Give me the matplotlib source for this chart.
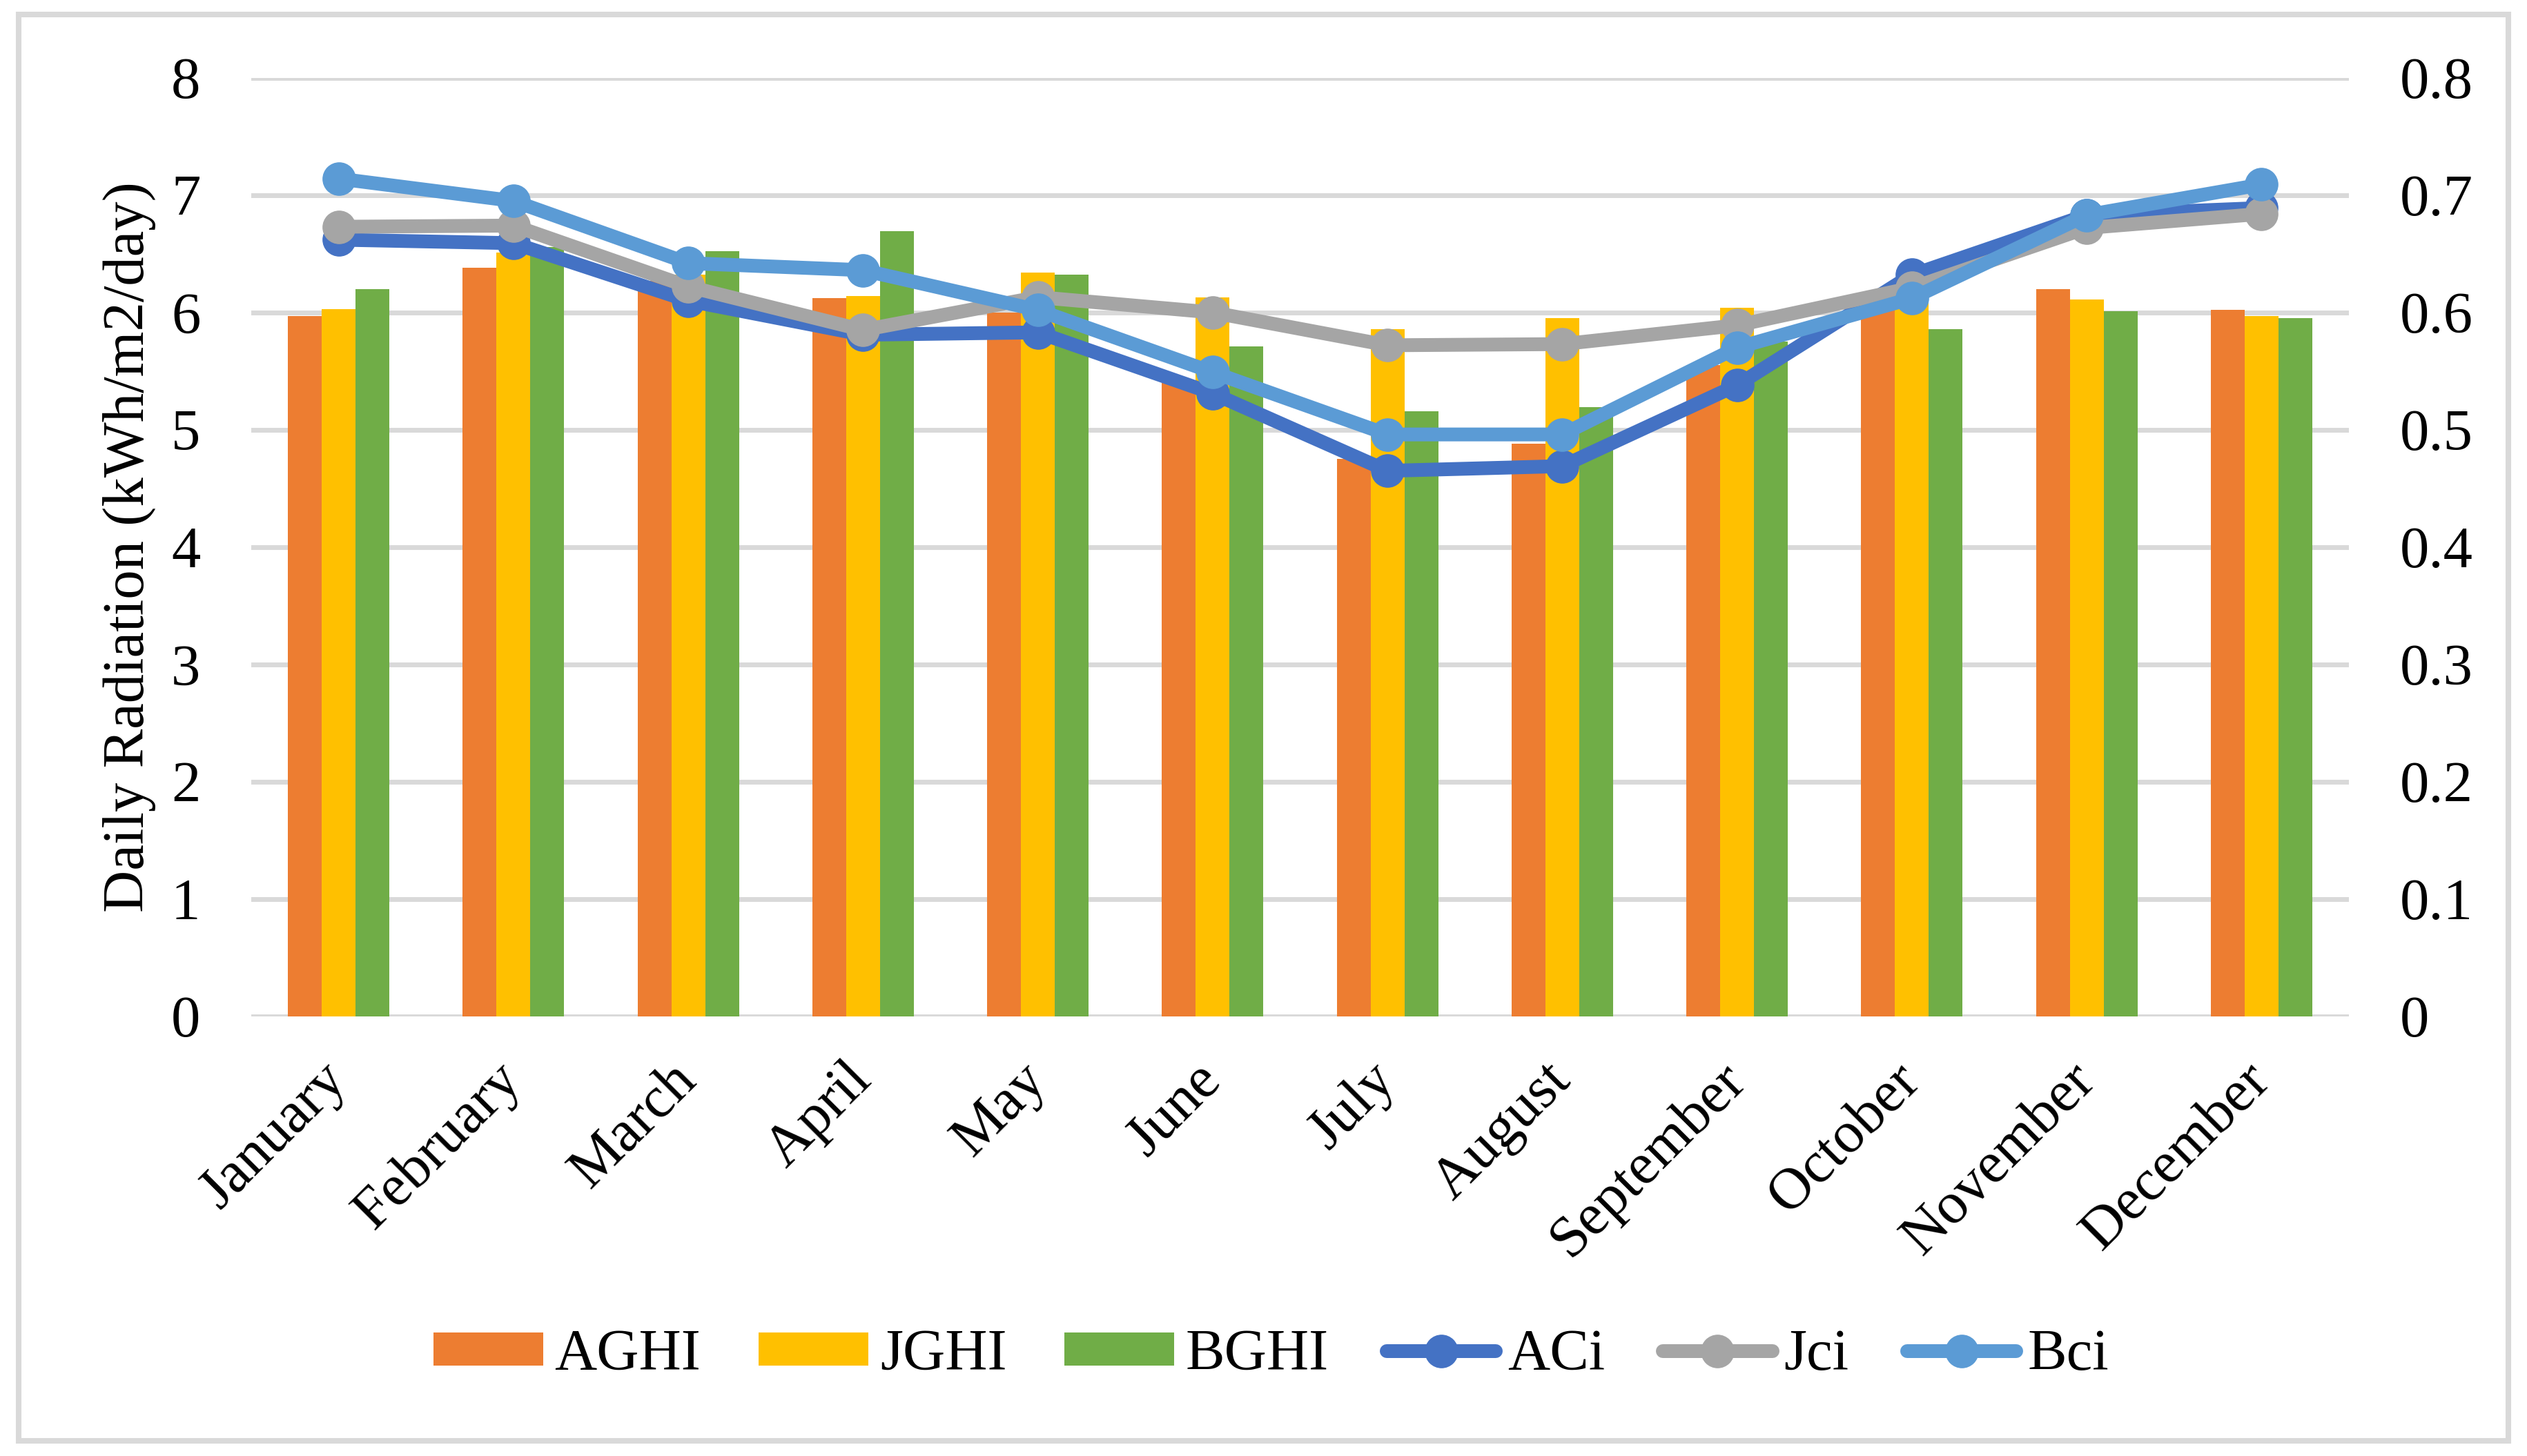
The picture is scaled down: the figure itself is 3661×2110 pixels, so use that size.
import matplotlib
matplotlib.use('Agg')
import matplotlib.pyplot as plt
from matplotlib.patches import Rectangle
import numpy as np

plt.rcParams['font.family'] = ['Liberation Serif', 'DejaVu Serif']

# Data
months = ['January', 'February', 'March', 'April', 'May', 'June', 'July',
          'August', 'September', 'October', 'November', 'December']
aghi = [5.97, 6.38, 6.27, 6.12, 6.00, 5.41, 4.75, 4.88, 5.55, 6.17, 6.20, 6.02]
jghi = [6.03, 6.51, 6.32, 6.14, 6.34, 6.13, 5.86, 5.95, 6.04, 6.08, 6.11, 5.97]
bghi = [6.20, 6.56, 6.52, 6.69, 6.32, 5.71, 5.16, 5.19, 5.75, 5.86, 6.01, 5.95]
aci = [0.662, 0.659, 0.610, 0.581, 0.583, 0.531, 0.465, 0.469, 0.538, 0.632, 0.683, 0.689]
jci = [0.673, 0.674, 0.622, 0.585, 0.613, 0.600, 0.572, 0.573, 0.589, 0.621, 0.672, 0.684]
bci = [0.714, 0.695, 0.642, 0.636, 0.602, 0.549, 0.496, 0.496, 0.570, 0.612, 0.683, 0.709]
left_ticks = [0, 1, 2, 3, 4, 5, 6, 7, 8]
right_ticks = [0, 0.1, 0.2, 0.3, 0.4, 0.5, 0.6, 0.7, 0.8]
right_labels = ['0', '0.1', '0.2', '0.3', '0.4', '0.5', '0.6', '0.7', '0.8']

fs = 61
grid_col = '#D9D9D9'

fig = plt.figure(figsize=(36.62, 21.10), dpi=100)
ax = fig.add_axes([0.0994, 0.3019, 0.8299, 0.6447])

x = np.arange(len(months))
w = 0.1935
ax.bar(x - w, aghi, w, color='#ED7D31', label='AGHI', zorder=2)
ax.bar(x, jghi, w, color='#FFC000', label='JGHI', zorder=2)
ax.bar(x + w, bghi, w, color='#70AD47', label='BGHI', zorder=2)

ax.set_xlim(-0.5, len(months) - 0.5)
ax.set_ylim(0, 8)
ax.set_yticks(left_ticks)
ax.set_yticklabels([str(t) for t in left_ticks])
ax.yaxis.grid(True, color=grid_col, linewidth=5)
ax.set_axisbelow(True)
for s in ax.spines.values():
    s.set_visible(False)
ax.tick_params(axis='both', length=0, labelsize=fs)
ax.tick_params(axis='y', pad=53)
ax.set_xticks(x)
ax.set_xticklabels(months, rotation=45, ha='right', va='center',
                   rotation_mode='anchor')
ax.tick_params(axis='x', pad=58)
ax.set_ylabel('Daily Radiation (kWh/m2/day)', fontsize=fs, va='center')
ax.yaxis.set_label_coords(-0.058, 0.5)

# secondary axis for the clearness index lines
ax2 = ax.twinx()
lk = dict(linewidth=14.4, marker='o', markersize=34,
          solid_capstyle='round', solid_joinstyle='round')
ax2.plot(x, aci, color='#4472C4', label='ACi', **lk)
ax2.plot(x, jci, color='#A5A5A5', label='Jci', **lk)
ax2.plot(x, bci, color='#5B9BD5', label='Bci', **lk)
ax2.set_ylim(0, 0.8)
ax2.set_yticks(right_ticks)
ax2.set_yticklabels(right_labels)
ax2.tick_params(axis='y', length=0, labelsize=fs, pad=53)
for s in ax2.spines.values():
    s.set_visible(False)

h1, l1 = ax.get_legend_handles_labels()
h2, l2 = ax2.get_legend_handles_labels()
fig.legend(h1 + h2, l1 + l2, loc='center', bbox_to_anchor=(0.503, 0.069),
           ncol=6, frameon=False, fontsize=fs, handlelength=1.87,
           handleheight=0.49, handletextpad=0.2, columnspacing=0.99)

# chart area border
fig.patches.append(Rectangle((27 / 3662, 1 - 2088 / 2110),
                             (3634 - 27) / 3662, (2088 - 21) / 2110,
                             transform=fig.transFigure, fill=False,
                             edgecolor=grid_col, linewidth=5.8))

fig.savefig('out.png', dpi=100)
